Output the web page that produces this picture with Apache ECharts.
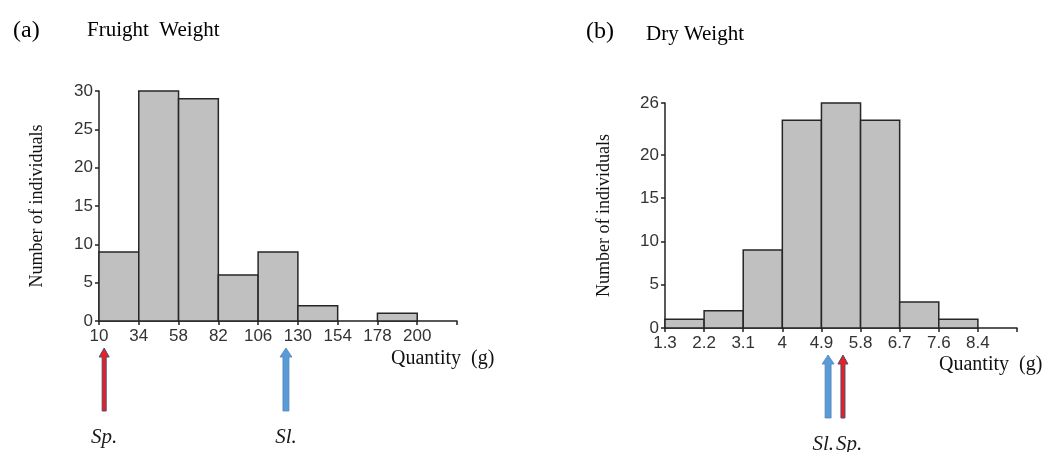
<!DOCTYPE html>
<html>
<head>
<meta charset="utf-8">
<script src="https://cdn.jsdelivr.net/npm/echarts@6/dist/echarts.min.js"></script>
<style>html,body{margin:0;padding:0;background:#fff;}#c{width:1043px;height:452px;}</style>
</head>
<body>
<div id="c"></div>
<script>
// ---- data ----
const binLabelsA = ['10','34','58','82','106','130','154','178','200'];
const countsA = [9, 30, 29, 6, 9, 2, 0, 1];
const binLabelsB = ['1.3','2.2','3.1','4','4.9','5.8','6.7','7.6','8.4'];
const countsB = [1, 2, 9, 24, 26, 24, 3, 1];
const yTicksA = [0, 5, 10, 15, 20, 25, 30];
const yTicksB = [0, 5, 10, 15, 20, 26];
// arrow positions on the bin axis (bin index units)
const arrowPosA = [0.13, 4.7];
const arrowNamesA = ['Sp.', 'Sl.'];
const arrowPosB = [4.17, 4.55];
const arrowNamesB = ['Sl.', 'Sp.'];

const RED = '#ee1c24', BLUE = '#5b9bd5';
const colorOf = n => n === 'Sp.' ? RED : BLUE;
const serif = '"Liberation Serif", "Times New Roman", serif';

const chart = echarts.init(document.getElementById('c'), null, {renderer: 'canvas'});

function histItem(params, api) {
  const i = api.value(0), v = api.value(1);
  if (!v) return null;
  const p0 = api.coord([i, 0]), p1 = api.coord([i + 1, v]);
  return {type: 'rect', shape: {x: p0[0], y: p1[1], width: p1[0] - p0[0], height: p0[1] - p1[1]},
    style: {fill: '#c0c0c0', stroke: '#262626', lineWidth: 1.5}};
}
function arrowMaker(names, aligns) {
  return function (params, api) {
    const idx = api.value(1);
    const name = names[idx];
    const p = api.coord([api.value(0), 0]);
    const x = p[0], yTop = p[1] + 27, yBot = p[1] + 90;
    const red = name === 'Sp.';
    const hw = red ? 2 : 3, hh = red ? 5 : 6, hl = 9;
    const al = aligns ? aligns[idx] : 'center';
    const tx = al === 'right' ? x + 6 : (al === 'left' ? x - 7 : x);
    return {type: 'group', children: [
      {type: 'polygon', shape: {points: [[x, yTop], [x + hh, yTop + hl], [x + hw, yTop + hl], [x + hw, yBot], [x - hw, yBot], [x - hw, yTop + hl], [x - hh, yTop + hl]]},
        style: {fill: colorOf(name), stroke: red ? '#44506e' : '#4f86c0', lineWidth: red ? 1 : 0.8}},
      {type: 'text', style: {text: name, x: tx, y: p[1] + 116, align: al, verticalAlign: 'middle',
        font: 'italic 21px "Liberation Serif", "DejaVu Serif", serif', fill: '#1a1a1a'}}
    ]};
  };
}

const labelStyle = {color: '#333', fontSize: 17, fontFamily: '"Liberation Sans", Arial, sans-serif'};
const axisLine = {show: true, onZero: false, lineStyle: {color: '#222', width: 1.5}};
const axisTick = {show: true, length: 4, lineStyle: {color: '#222', width: 1.5}};

function xAxisFor(gridIndex, labels) {
  return {type: 'value', gridIndex, min: 0, max: 9, interval: 1,
    axisLine, axisTick, splitLine: {show: false},
    axisLabel: Object.assign({margin: 7, formatter: v => labels[v] !== undefined ? labels[v] : ''}, labelStyle)};
}
function yAxisFor(gridIndex, max, ticks, gap) {
  return {type: 'value', gridIndex, min: 0, max,
    name: 'Number of individuals', nameLocation: 'middle', nameGap: gap, nameRotate: 90,
    nameTextStyle: {fontFamily: serif, fontSize: 18, color: '#111'},
    axisLine, splitLine: {show: false},
    axisTick: Object.assign({customValues: ticks}, axisTick),
    axisLabel: Object.assign({margin: 6, customValues: ticks}, labelStyle)};
}

chart.setOption({
  animation: false,
  title: [
    {text: '(a)', left: 8, top: 14, textStyle: {fontFamily: serif, fontSize: 24, fontWeight: 'normal', color: '#000'}},
    {text: 'Fruight  Weight', left: 82, top: 15, textStyle: {fontFamily: serif, fontSize: 21, fontWeight: 'normal', color: '#000'}},
    {text: '(b)', left: 581, top: 15, textStyle: {fontFamily: serif, fontSize: 24, fontWeight: 'normal', color: '#000'}},
    {text: 'Dry Weight', left: 641, top: 19, textStyle: {fontFamily: serif, fontSize: 21, fontWeight: 'normal', color: '#000'}},
    {text: 'Quantity  (g)', left: 386, top: 344, textStyle: {fontFamily: serif, fontSize: 20, fontWeight: 'normal', color: '#111'}},
    {text: 'Quantity  (g)', left: 934, top: 350, textStyle: {fontFamily: serif, fontSize: 20, fontWeight: 'normal', color: '#111'}}
  ],
  grid: [
    {left: 99, top: 91, width: 358, height: 230},
    {left: 665, top: 103, width: 352, height: 225}
  ],
  xAxis: [xAxisFor(0, binLabelsA), xAxisFor(1, binLabelsB)],
  yAxis: [yAxisFor(0, 30, yTicksA, 53), yAxisFor(1, 26, yTicksB, 52)],
  series: [
    {type: 'custom', xAxisIndex: 0, yAxisIndex: 0, renderItem: histItem, clip: false,
      encode: {x: 0, y: 1}, data: countsA.map((v, i) => [i, v])},
    {type: 'custom', xAxisIndex: 1, yAxisIndex: 1, renderItem: histItem, clip: false,
      encode: {x: 0, y: 1}, data: countsB.map((v, i) => [i, v])},
    {type: 'custom', xAxisIndex: 0, yAxisIndex: 0, renderItem: arrowMaker(arrowNamesA, null), clip: false,
      encode: {x: 0}, data: arrowPosA.map((p, i) => [p, i])},
    {type: 'custom', xAxisIndex: 1, yAxisIndex: 1, renderItem: arrowMaker(arrowNamesB, ['right', 'left']), clip: false,
      encode: {x: 0}, data: arrowPosB.map((p, i) => [p, i])}
  ]
});
</script>
</body>
</html>
